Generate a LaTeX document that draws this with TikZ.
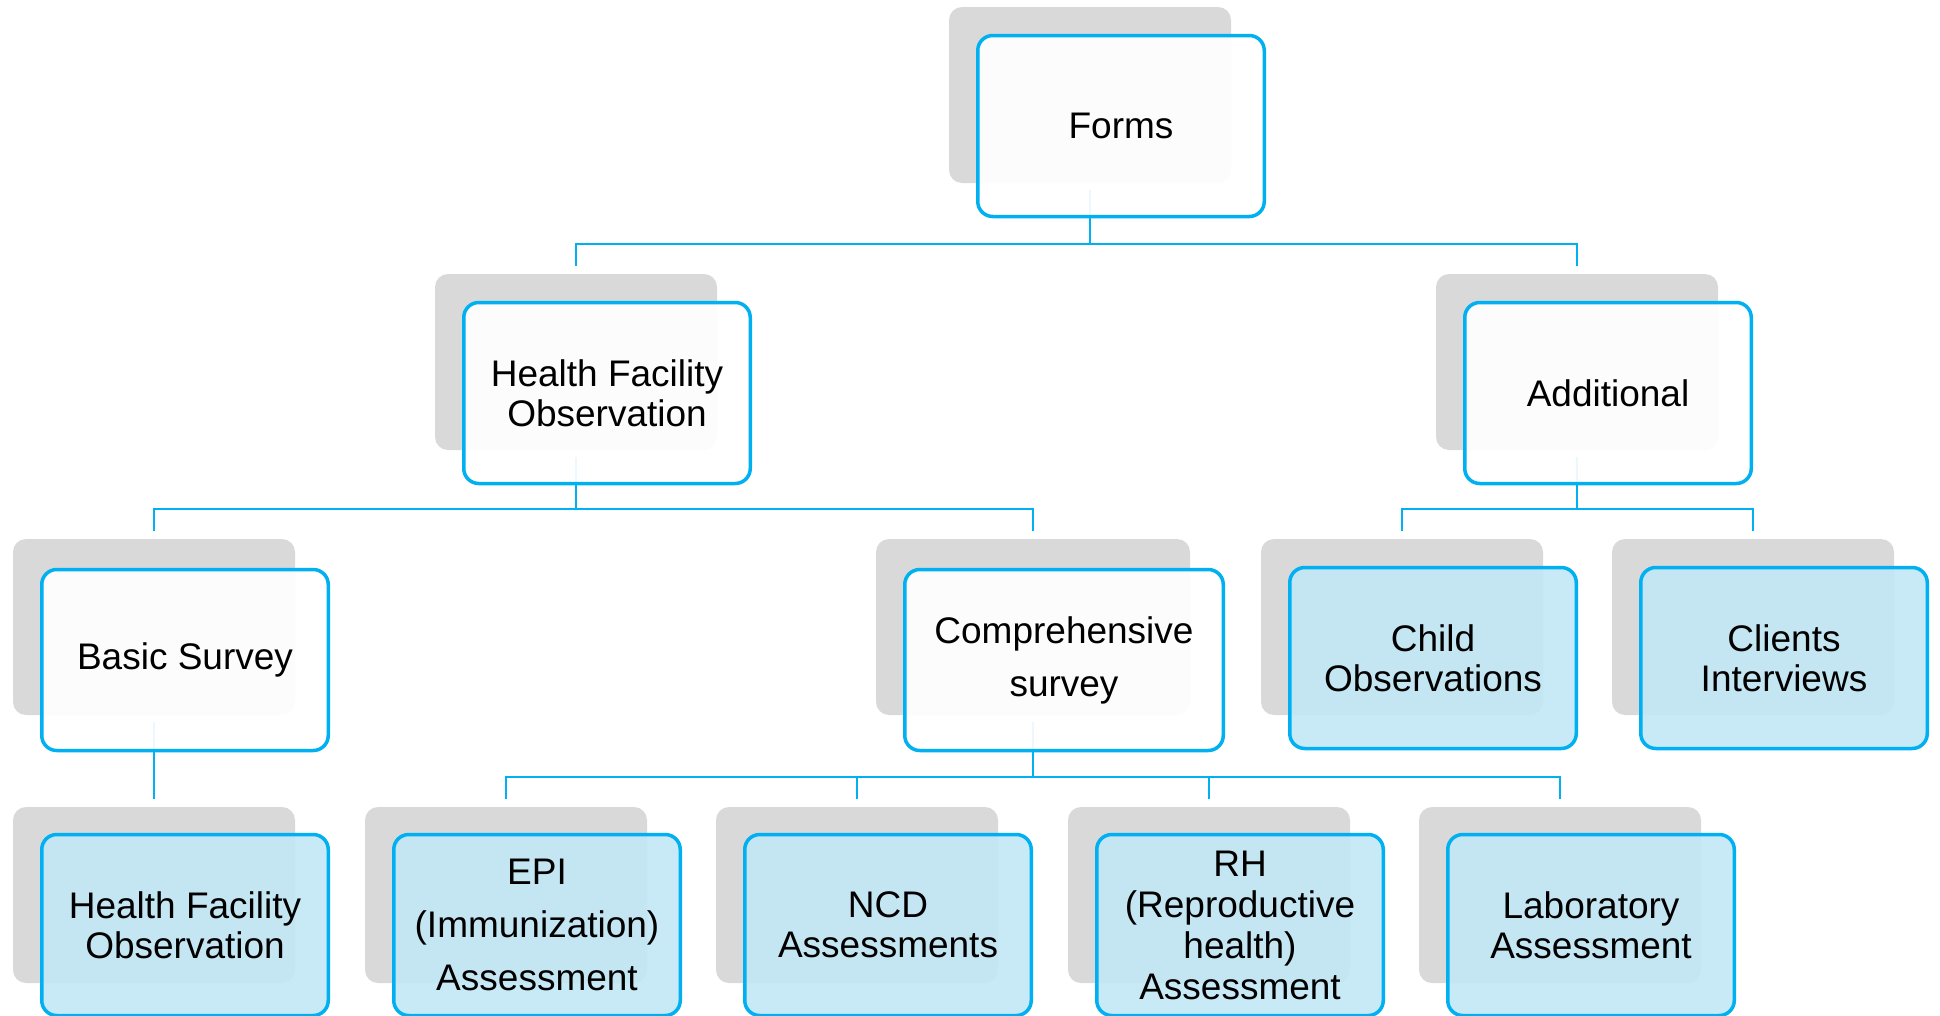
\documentclass[tikz,border=0pt]{standalone}
\usepackage{fontspec}
\setmainfont{Liberation Sans}
\usetikzlibrary{positioning}

\definecolor{cardblue}{RGB}{0,176,240}
\definecolor{shadowgray}{RGB}{217,217,217}
\definecolor{leafblue}{RGB}{195,232,246}

\newcommand\cardfont{\fontsize{37}{40}\selectfont}
\newcommand\widefont{\fontsize{37}{53}\selectfont}

\tikzset{
  backcard/.style={fill=shadowgray, rounded corners=13pt, minimum width=282pt, minimum height=176pt, inner sep=0pt},
  card/.style={draw=cardblue, line width=3.5pt, fill=white, fill opacity=0.92, text opacity=1,
    rounded corners=15pt, minimum width=286.5pt, minimum height=181pt, align=center, font=\cardfont},
  leaf/.style={card, fill=leafblue},
  link/.style={draw=cardblue, line width=2.5pt, shorten <=7pt, shorten >=8pt},
}

\begin{document}
\begin{tikzpicture}[x=1pt,y=-1pt]
    \useasboundingbox (0,0) rectangle (1940,1015);
    % grey back cards
    \node[backcard] (forms-s) at (1090,95) {};
    \node[backcard] (hfo-s) at (576,362) {};
    \node[backcard] (add-s) at (1577,362) {};
    \node[backcard] (basic-s) at (154,627) {};
    \node[backcard, minimum width=314pt] (comp-s) at (1033,627) {};
    \node[backcard] (child-s) at (1402,627) {};
    \node[backcard] (client-s) at (1753,627) {};
    \node[backcard] (hfoleaf-s) at (154,895) {};
    \node[backcard] (epi-s) at (506,895) {};
    \node[backcard] (ncd-s) at (857,895) {};
    \node[backcard] (rh-s) at (1209,895) {};
    \node[backcard] (lab-s) at (1560,895) {};
    % connectors
    \draw[link] (forms-s.south) |- ([yshift=30pt]hfo-s.north) -- (hfo-s.north);
    \draw[link] (forms-s.south) |- ([yshift=30pt]add-s.north) -- (add-s.north);
    \draw[link] (hfo-s.south) |- ([yshift=30pt]basic-s.north) -- (basic-s.north);
    \draw[link] (hfo-s.south) |- ([yshift=30pt]comp-s.north) -- (comp-s.north);
    \draw[link] (add-s.south) |- ([yshift=30pt]child-s.north) -- (child-s.north);
    \draw[link] (add-s.south) |- ([yshift=30pt]client-s.north) -- (client-s.north);
    \draw[link] (basic-s.south) -- (hfoleaf-s.north);
    \draw[link] (comp-s.south) |- ([yshift=30pt]epi-s.north) -- (epi-s.north);
    \draw[link] (comp-s.south) |- ([yshift=30pt]ncd-s.north) -- (ncd-s.north);
    \draw[link] (comp-s.south) |- ([yshift=30pt]rh-s.north) -- (rh-s.north);
    \draw[link] (comp-s.south) |- ([yshift=30pt]lab-s.north) -- (lab-s.north);
    % front cards
    \node[card] (forms) at ([shift={(31,31)}]forms-s.center) {Forms};
    \node[card] (hfo) at ([shift={(31,31)}]hfo-s.center) {Health Facility\\Observation};
    \node[card] (add) at ([shift={(31,31)}]add-s.center) {Additional};
    \node[card] (basic) at ([shift={(31,33)}]basic-s.center) {Basic Survey};
    \node[card, font=\widefont, minimum width=318.5pt] (comp) at ([shift={(31,33)}]comp-s.center) {Comprehensive\\survey};
    \node[leaf] (child) at ([shift={(31,31)}]child-s.center) {Child\\Observations};
    \node[leaf] (client) at ([shift={(31,31)}]client-s.center) {Clients\\Interviews};
    \node[leaf] (hfoleaf) at ([shift={(31,30)}]hfoleaf-s.center) {Health Facility\\Observation};
    \node[leaf, font=\widefont] (epi) at ([shift={(31,30)}]epi-s.center) {EPI\\(Immunization)\\Assessment};
    \node[leaf] (ncd) at ([shift={(31,30)}]ncd-s.center) {NCD\\Assessments};
    \node[leaf, font=\fontsize{37}{41}\selectfont] (rh) at ([shift={(31,30)}]rh-s.center) {RH\\(Reproductive\\health)\\Assessment};
    \node[leaf] (lab) at ([shift={(31,30)}]lab-s.center) {Laboratory\\Assessment};
\end{tikzpicture}
\end{document}
